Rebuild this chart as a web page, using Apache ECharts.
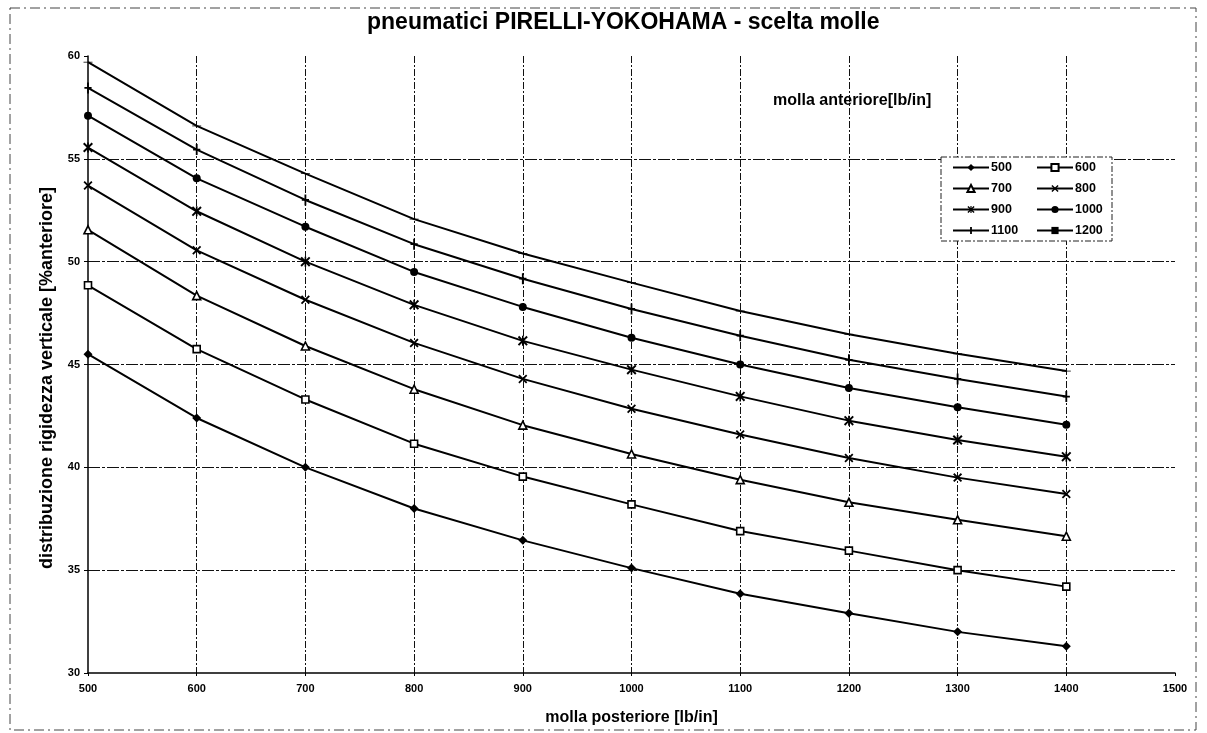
<!DOCTYPE html>
<html>
<head>
<meta charset="utf-8">
<script src="https://cdn.jsdelivr.net/npm/echarts@6/dist/echarts.min.js"></script>
<style>html,body{margin:0;padding:0;background:#fff}#c{width:1207px;height:733px}</style>
</head>
<body>
<div id="c"></div>
<script>
// rear spring rate [lb/in] (x axis)
const rearSprings = [500, 600, 700, 800, 900, 1000, 1100, 1200, 1300, 1400];
// front spring rates (series names)
const frontSprings = ['500', '600', '700', '800', '900', '1000', '1100', '1200'];
// % front vertical stiffness distribution, one array per front spring
const f500  = [45.5, 42.4, 40.0, 38.0, 36.45, 35.1, 33.85, 32.9, 32.0, 31.3];
const f600  = [48.85, 45.75, 43.3, 41.15, 39.55, 38.2, 36.9, 35.95, 35.0, 34.2];
const f700  = [51.55, 48.35, 45.9, 43.8, 42.05, 40.65, 39.4, 38.3, 37.45, 36.65];
const f800  = [53.7, 50.55, 48.15, 46.05, 44.3, 42.85, 41.6, 40.45, 39.5, 38.7];
const f900  = [55.55, 52.45, 50.0, 47.9, 46.15, 44.75, 43.45, 42.27, 41.33, 40.52];
const f1000 = [57.1, 54.05, 51.7, 49.5, 47.8, 46.3, 45.0, 43.86, 42.92, 42.07];
const f1100 = [58.45, 55.45, 53.0, 50.85, 49.17, 47.7, 46.4, 45.23, 44.3, 43.44];
const f1200 = [59.7, 56.6, 54.28, 52.07, 50.4, 48.98, 47.6, 46.47, 45.52, 44.68];
const seriesValues = [f500, f600, f700, f800, f900, f1000, f1100, f1200];

const titleText = 'pneumatici PIRELLI-YOKOHAMA - scelta molle';
const xName = 'molla posteriore [lb/in]';
const yName = 'distribuzione rigidezza verticale [%anteriore]';
const legendTitle = 'molla anteriore[lb/in]';

const X_PATH = 'path://M0,1.4 L1.4,0 L5,3.6 L8.6,0 L10,1.4 L6.4,5 L10,8.6 L8.6,10 L5,6.4 L1.4,10 L0,8.6 L3.6,5 Z';
const STAR_PATH = 'path://M0,1.4 L1.4,0 L4.2,2.8 L4.2,0 L5.8,0 L5.8,2.8 L8.6,0 L10,1.4 L6.4,5 L10,8.6 L8.6,10 L5.8,7.2 L5.8,10 L4.2,10 L4.2,7.2 L1.4,10 L0,8.6 L3.6,5 Z';
const PLUS_PATH = 'path://M4,0 L6,0 L6,4.2 L9,4.2 L9,5.8 L6,5.8 L6,10 L4,10 L4,5.8 L1,5.8 L1,4.2 L4,4.2 Z';
const DASH_PATH = 'path://M0,0 L10,0 L10,2.6 L0,2.6 Z';

const symbols = [
  {symbol: 'diamond', size: 9, color: '#000'},
  {symbol: 'rect', size: 7, color: '#fff'},
  {symbol: 'triangle', size: 8, color: '#fff'},
  {symbol: X_PATH, size: 9, color: '#000'},
  {symbol: STAR_PATH, size: 10, color: '#000'},
  {symbol: 'circle', size: 8, color: '#000'},
  {symbol: PLUS_PATH, size: [9, 11], color: '#000'},
  {symbol: DASH_PATH, size: [9, 3], color: '#000'}
];

const FONT = '"Liberation Sans", Arial, sans-serif';

const series = frontSprings.map((name, i) => ({
  name: name,
  type: 'line',
  data: rearSprings.map((x, j) => [x, seriesValues[i][j]]),
  symbol: symbols[i].symbol,
  symbolSize: symbols[i].size,
  symbolKeepAspect: true,
  showAllSymbol: true,
  lineStyle: {color: '#000', width: 2},
  itemStyle: {color: symbols[i].color, borderColor: '#000', borderWidth: (symbols[i].color === '#fff') ? 1.6 : 0},
  emphasis: {disabled: true},
  animation: false,
  z: 3
}));

const chart = echarts.init(document.getElementById('c'), null, {renderer: 'canvas'});
const legendCommon = {
  orient: 'vertical',
  itemWidth: 36,
  itemHeight: 9,
  itemGap: 8,
  textStyle: {fontFamily: FONT, fontWeight: 'bold', fontSize: 12.5, color: '#000', padding: [0, 0, 0, -3]},
  padding: 0,
  selectedMode: false
};
chart.setOption({
  backgroundColor: '#fff',
  animation: false,
  title: {
    text: titleText,
    left: 362,
    top: 6,
    textStyle: {fontFamily: FONT, fontWeight: 'bold', fontSize: 23, color: '#000'}
  },
  legend: [
    Object.assign({}, legendCommon, {data: ['500', '700', '900', '1100'], left: 952, top: 161}),
    Object.assign({}, legendCommon, {data: ['600', '800', '1000', '1200'], left: 1036, top: 161})
  ],
  grid: {left: 88, right: 32, top: 56, bottom: 60, containLabel: false},
  xAxis: {
    type: 'value',
    min: 500, max: 1500, interval: 100,
    name: xName,
    nameLocation: 'middle',
    nameGap: 37,
    nameTextStyle: {fontFamily: FONT, fontWeight: 'bold', fontSize: 16, color: '#000'},
    axisLine: {show: true, lineStyle: {color: '#000', width: 1.5}},
    axisTick: {show: true, length: 3, lineStyle: {color: '#000'}},
    axisLabel: {fontFamily: FONT, fontWeight: 'bold', fontSize: 11, color: '#000', margin: 10,
      formatter: v => String(v)},
    splitLine: {show: true, showMinLine: false, showMaxLine: false, lineStyle: {color: '#111', width: 1, type: [7, 2, 2, 2]}}
  },
  yAxis: {
    type: 'value',
    min: 30, max: 60, interval: 5,
    axisLine: {show: true, lineStyle: {color: '#000', width: 1.5}},
    axisTick: {show: true, length: 4, lineStyle: {color: '#000'}},
    axisLabel: {fontFamily: FONT, fontWeight: 'bold', fontSize: 11, color: '#000', margin: 8,
      formatter: v => String(v)},
    splitLine: {show: true, showMinLine: false, showMaxLine: false, lineStyle: {color: '#111', width: 1, type: [12, 2, 3, 2]}}
  },
  graphic: [
    {type: 'rect', shape: {x: 10, y: 8, width: 1186, height: 722}, style: {fill: null, stroke: '#444', lineWidth: 1, lineDash: [10, 4, 2, 4]}, silent: true, z: 0},
    {type: 'rect', shape: {x: 941, y: 157, width: 171, height: 84}, style: {fill: '#fff', stroke: '#222', lineWidth: 1, lineDash: [6, 2, 2, 2]}, silent: true, z: 1},
    {type: 'text', left: 773, top: 93, style: {text: legendTitle, font: 'bold 16px ' + FONT, fill: '#000'}, silent: true, z: 5},
    {type: 'text', x: 47, y: 378, rotation: Math.PI / 2,
      style: {text: yName, font: 'bold 18px ' + FONT, fill: '#000', align: 'center', verticalAlign: 'middle'}, silent: true, z: 5}
  ],
  series: series
});
</script>
</body>
</html>
